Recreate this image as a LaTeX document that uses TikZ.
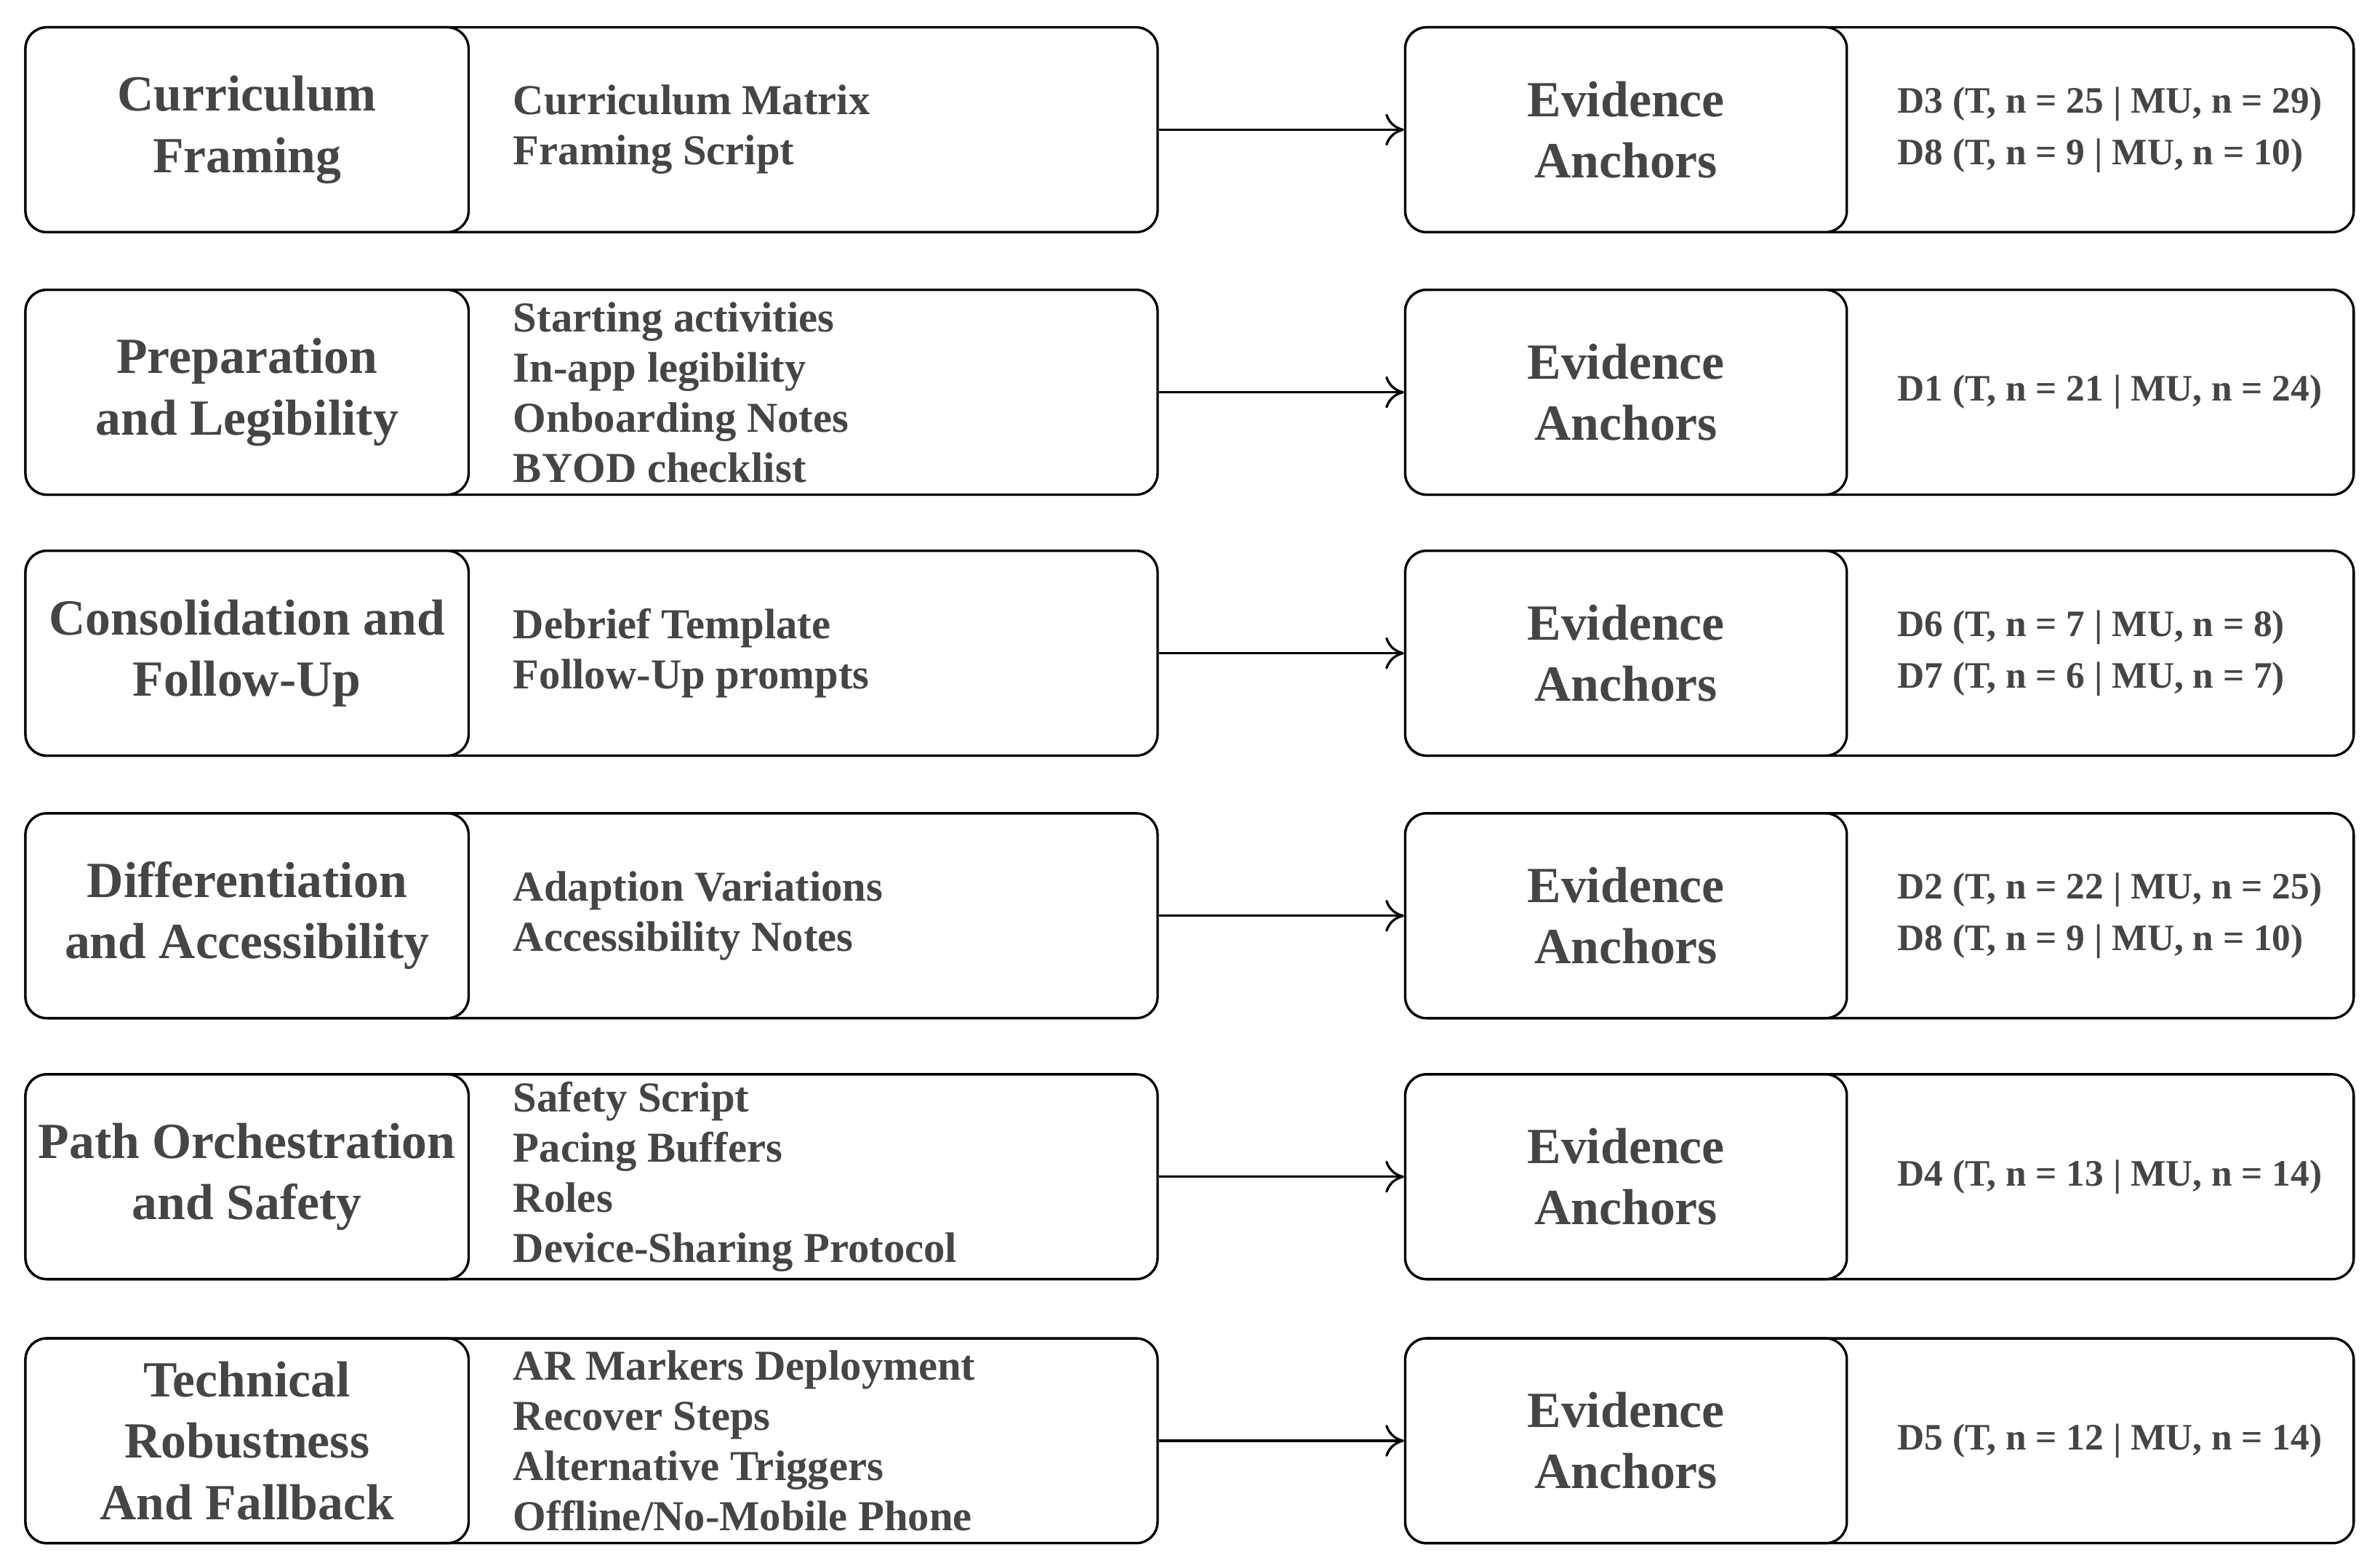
\documentclass[tikz,border=0pt]{standalone}
\usepackage{fontspec}
\setmainfont{Liberation Serif}
\usetikzlibrary{arrows.meta}

\definecolor{inkgray}{HTML}{454545}

\begin{document}
\begin{tikzpicture}[x=0.02cm, y=-0.02cm,
	box/.style={draw=black, line width=0.9pt, rounded corners=8pt, minimum height=2.7cm, inner sep=0pt},
	outerbox/.style={box, minimum width=14.92cm, anchor=west},
	headbox/.style={box, fill=white, minimum width=5.84cm, anchor=west, align=center,
		font=\fontsize{19}{23}\selectfont\bfseries, text=inkgray},
	itemtext/.style={anchor=west, align=left, font=\fontsize{16}{18.8}\selectfont\bfseries, text=inkgray},
	evidtext/.style={anchor=west, align=left, font=\fontsize{14}{19.4}\selectfont\bfseries, text=inkgray},
	link/.style={line width=0.9pt, -{To[length=7pt, width=12pt]}}]

% page size
	\useasboundingbox (0,0) rectangle (1568,1033);

% rows: centre y / heading / items / anchors
	\foreach \i/\yc/\head/\items/\evid in {
		1/85.5/{Curriculum\\Framing}/{Curriculum Matrix\\Framing Script}/{D3 (T, n = 25 | MU, n = 29)\\D8 (T, n = 9 | MU, n = 10)},
		2/258.5/{Preparation\\and Legibility}/{Starting activities\\In-app legibility\\Onboarding Notes\\BYOD checklist}/{D1 (T, n = 21 | MU, n = 24)},
		3/430.5/{Consolidation and\\Follow-Up}/{Debrief Template\\Follow-Up prompts}/{D6 (T, n = 7 | MU, n = 8)\\D7 (T, n = 6 | MU, n = 7)},
		4/603.5/{Differentiation\\and Accessibility}/{Adaption Variations\\Accessibility Notes}/{D2 (T, n = 22 | MU, n = 25)\\D8 (T, n = 9 | MU, n = 10)},
		5/775.5/{Path Orchestration\\and Safety}/{Safety Script\\Pacing Buffers\\Roles\\Device-Sharing Protocol}/{D4 (T, n = 13 | MU, n = 14)},
		6/949.5/{Technical\\Robustness\\And Fallback}/{AR Markers Deployment\\Recover Steps\\Alternative Triggers\\Offline/No-Mobile Phone}/{D5 (T, n = 12 | MU, n = 14)}}
	{
		% left block
		\node[outerbox] (out\i) at (16,\yc) {};
		\node[headbox] (head\i) at (16,\yc) {\head};
		\node[itemtext] (items\i) at (332,\yc) {\items};
		% right block
		\node[box, minimum width=12.5cm, anchor=west] (anc\i) at (925,\yc) {};
		\node[headbox, minimum width=5.82cm] (evh\i) at (925,\yc) {Evidence\\Anchors};
		\node[evidtext] (evid\i) at (1244,\yc) {\evid};
		\draw[link] (out\i.east) -- (anc\i.west);
	}

\end{tikzpicture}
\end{document}
